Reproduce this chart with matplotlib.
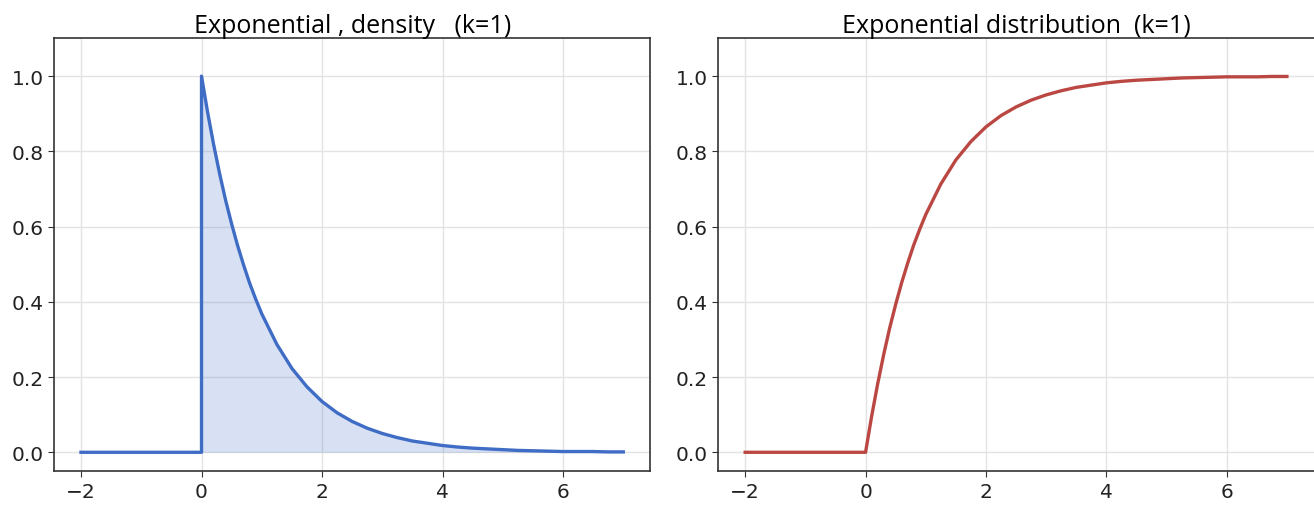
import matplotlib.pyplot as plt

# values
x_left = [-2.0, 0.0]
y_left = [0.0, 0.0]
x_pos = [0.0, 0.1, 0.2, 0.3, 0.4, 0.5, 0.6, 0.7, 0.8, 0.9, 1.0,
         1.25, 1.5, 1.75, 2.0, 2.25, 2.5, 2.75, 3.0, 3.25, 3.5, 3.75,
         4.0, 4.25, 4.5, 4.75, 5.0, 5.25, 5.5, 5.75, 6.0, 6.25, 6.5, 6.75, 7.0]
density = [1.000, 0.905, 0.819, 0.741, 0.670, 0.607, 0.549, 0.497, 0.449, 0.407, 0.368,
           0.287, 0.223, 0.174, 0.135, 0.105, 0.082, 0.064, 0.050, 0.039, 0.030, 0.024,
           0.018, 0.014, 0.011, 0.009, 0.007, 0.005, 0.004, 0.003, 0.002, 0.002, 0.002, 0.001, 0.001]
cdf = [0.000, 0.095, 0.181, 0.259, 0.330, 0.393, 0.451, 0.503, 0.551, 0.593, 0.632,
       0.713, 0.777, 0.826, 0.865, 0.895, 0.918, 0.936, 0.950, 0.961, 0.970, 0.976,
       0.982, 0.986, 0.989, 0.991, 0.993, 0.995, 0.996, 0.997, 0.998, 0.998, 0.998, 0.999, 0.999]

titles = ['Exponential , density   (k=1)', 'Exponential distribution  (k=1)']
xticks = [-2, 0, 2, 4, 6]
yticks = [0.0, 0.2, 0.4, 0.6, 0.8, 1.0]

blue = '#3f6cc4'
red = '#bb4743'

fig = plt.figure(figsize=(13.14, 5.06), dpi=100)
ax1 = fig.add_axes([0.041, 0.067, 0.454, 0.855])
ax2 = fig.add_axes([0.5465, 0.067, 0.4535, 0.855])

# density: flat at zero, jump at 0, then decay
ax1.plot(x_left + x_pos, y_left + density, color=blue, lw=2.4)
ax1.fill_between(x_pos, density, 0, color=blue, alpha=0.2, lw=0)

# distribution function
ax2.plot(x_left + x_pos[1:], y_left + cdf[1:], color=red, lw=2.4)
ax2.spines['right'].set_visible(False)

for ax, t in zip([ax1, ax2], titles):
    ax.set_xlim(-2.45, 7.45)
    ax.set_ylim(-0.05, 1.1)
    ax.set_xticks(xticks)
    ax.set_yticks(yticks)
    ax.set_yticklabels([f'{v:.1f}' for v in yticks])
    ax.grid(True, color='#e3e3e3', lw=1)
    ax.set_axisbelow(True)
    ax.tick_params(labelsize=14.5, length=4, color='#333333', labelcolor='#222222')
    for s in ax.spines.values():
        s.set_color('#333333')
        s.set_linewidth(1.2)
    ax.set_title(t, fontsize=18, family=['Open Sans', 'DejaVu Sans'], pad=3)

fig.savefig('out.png', dpi=100)
